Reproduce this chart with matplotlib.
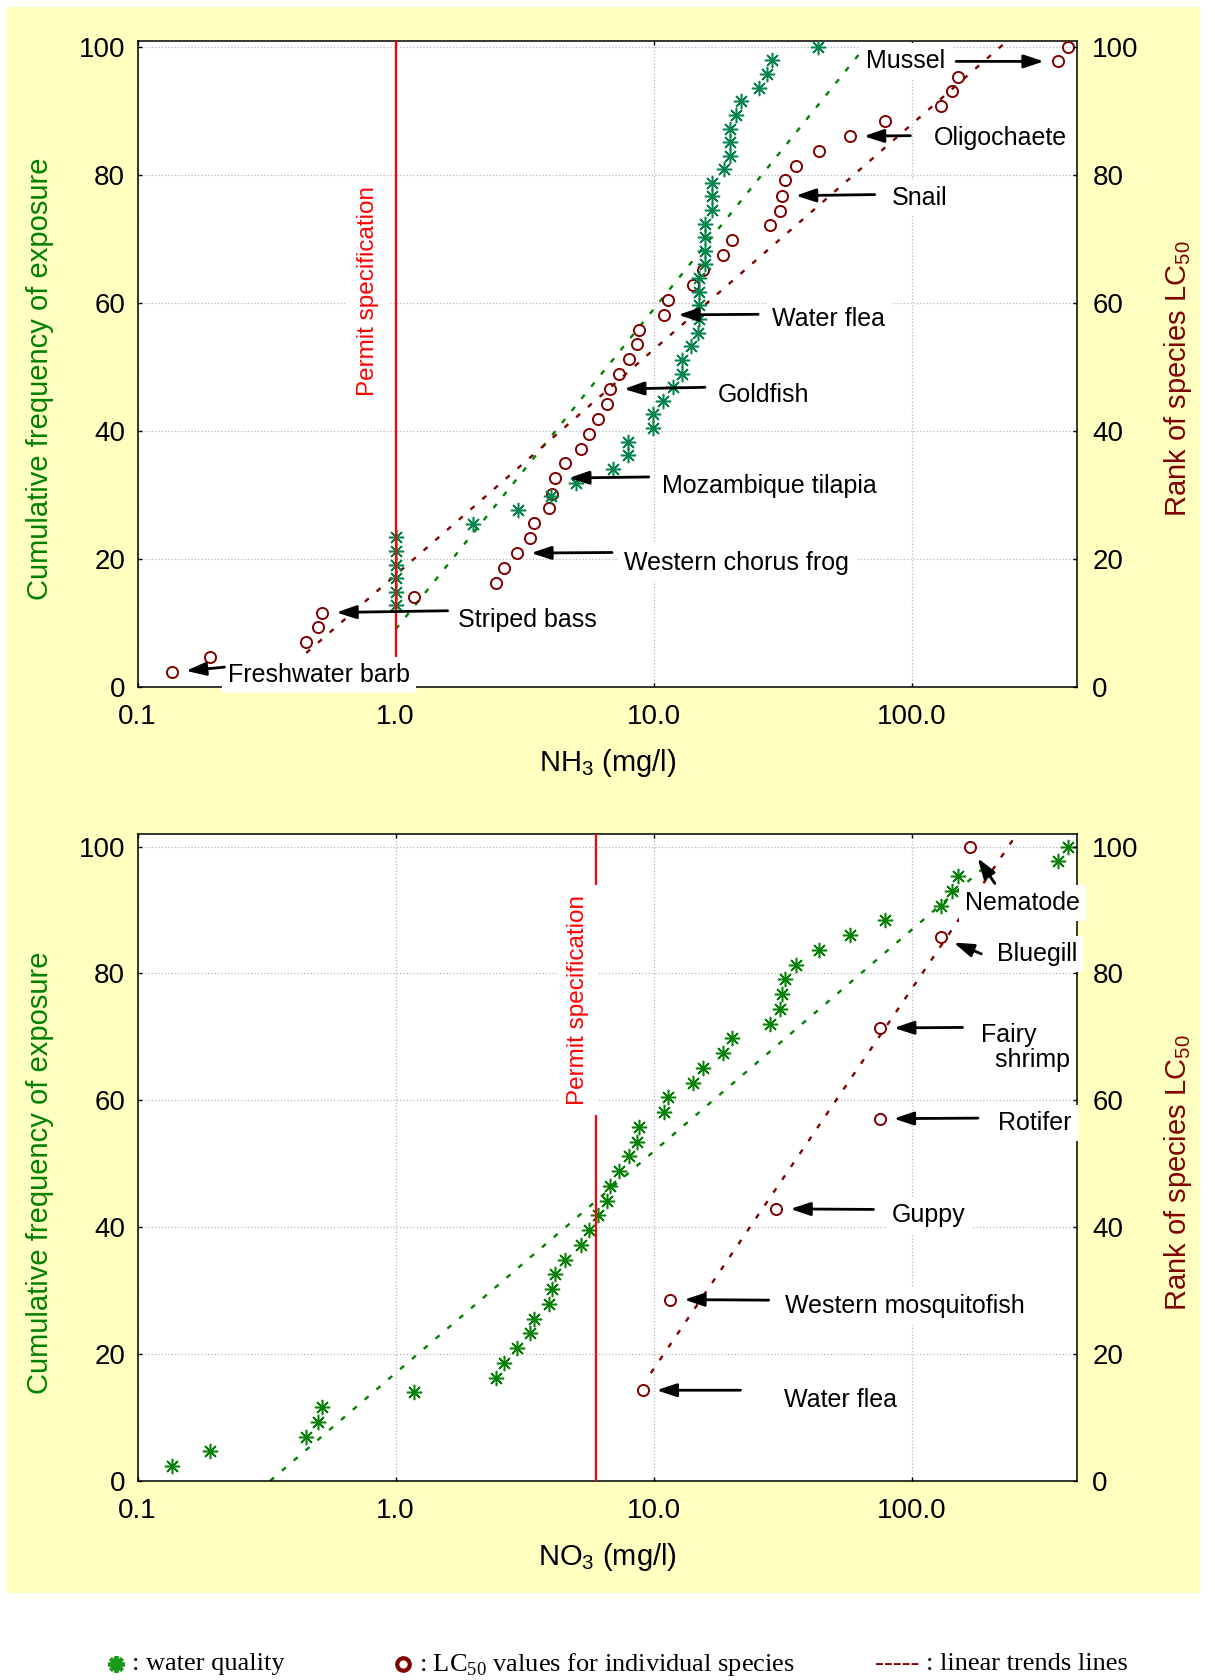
import matplotlib
matplotlib.use('Agg')
import matplotlib.pyplot as plt
from matplotlib.patches import Rectangle
from matplotlib.lines import Line2D
from matplotlib.ticker import FixedLocator, FuncFormatter, NullLocator

plt.rcParams['font.family'] = ['Liberation Sans', 'DejaVu Sans']

# ---- NH3 panel data ----
nh3_lc50_x = [0.136, 0.19, 0.45, 0.50, 0.52, 1.18, 2.45, 2.63, 2.96, 3.31, 3.43,
              3.94, 4.03, 4.15, 4.55, 5.22, 5.63, 6.09, 6.6, 6.78, 7.33, 8.0,
              8.6, 8.75, 11.0, 11.35, 14.2, 15.5, 18.6, 20.2, 28.3, 30.9, 31.4,
              32.4, 35.7, 43.8, 57.6, 79.0, 130.0, 143.0, 151.0, 368.0, 405.0]
nh3_lc50_y = [2.3, 4.7, 7.0, 9.3, 11.6, 14.0, 16.3, 18.6, 20.9, 23.3, 25.6,
              27.9, 30.2, 32.6, 34.9, 37.2, 39.5, 41.9, 44.2, 46.5, 48.8, 51.2,
              53.5, 55.8, 58.1, 60.5, 62.8, 65.1, 67.4, 69.8, 72.1, 74.4, 76.7,
              79.1, 81.4, 83.7, 86.0, 88.4, 90.7, 93.0, 95.3, 97.7, 100.0]
nh3_wq_x = [1.0, 1.0, 1.0, 1.0, 1.0, 1.0, 1.99, 2.99, 4.01, 5.0, 6.95, 7.97,
            7.97, 9.9, 9.9, 10.9, 11.9, 12.9, 12.9, 13.9, 14.8, 15.0, 15.0,
            15.0, 15.0, 15.85, 15.85, 15.85, 15.85, 16.8, 16.8, 16.8, 18.8,
            19.7, 19.7, 19.7, 20.8, 21.7, 25.6, 27.5, 28.8, 43.3]
nh3_wq_y = [12.8, 14.9, 17.0, 19.1, 21.3, 23.4, 25.5, 27.7, 29.8, 31.9, 34.0,
            36.2, 38.3, 40.4, 42.6, 44.7, 46.8, 48.9, 51.1, 53.2, 55.3, 57.4,
            59.6, 61.7, 63.8, 66.0, 68.1, 70.2, 72.3, 74.5, 76.6, 78.7, 80.9,
            83.0, 85.1, 87.2, 89.4, 91.5, 93.6, 95.7, 97.9, 100.0]
nh3_lc50_trend_x = [0.45, 236.0]
nh3_lc50_trend_y = [5.3, 101.0]
nh3_wq_trend_x = [1.0, 66.0]
nh3_wq_trend_y = [9.0, 100.0]
nh3_permit = 1.0
nh3_species = ['Freshwater barb', 'Striped bass', 'Western chorus frog',
               'Mozambique tilapia', 'Goldfish', 'Water flea', 'Snail',
               'Oligochaete', 'Mussel']
nh3_species_idx = [0, 4, 8, 13, 19, 24, 32, 36, 41]

# ---- NO3 panel data ----
no3_wq_x = [0.136, 0.19, 0.45, 0.50, 0.52, 1.18, 2.45, 2.63, 2.96, 3.31, 3.43,
            3.94, 4.03, 4.15, 4.55, 5.22, 5.63, 6.09, 6.6, 6.78, 7.33, 8.0,
            8.6, 8.75, 11.0, 11.35, 14.2, 15.5, 18.6, 20.2, 28.3, 30.9, 31.4,
            32.4, 35.7, 43.8, 57.6, 79.0, 130.0, 143.0, 151.0, 368.0, 405.0]
no3_wq_y = [2.3, 4.7, 7.0, 9.3, 11.6, 14.0, 16.3, 18.6, 20.9, 23.3, 25.6,
            27.9, 30.2, 32.6, 34.9, 37.2, 39.5, 41.9, 44.2, 46.5, 48.8, 51.2,
            53.5, 55.8, 58.1, 60.5, 62.8, 65.1, 67.4, 69.8, 72.1, 74.4, 76.7,
            79.1, 81.4, 83.7, 86.0, 88.4, 90.7, 93.0, 95.3, 97.7, 100.0]
no3_lc50_x = [9.06, 11.6, 29.9, 75.2, 75.4, 129.7, 168.0]
no3_lc50_y = [14.3, 28.6, 42.9, 57.1, 71.4, 85.7, 100.0]
no3_wq_trend_x = [0.326, 192.0]
no3_wq_trend_y = [0.0, 96.8]
no3_lc50_trend_x = [9.75, 246.0]
no3_lc50_trend_y = [17.0, 101.0]
no3_permit = 6.0
no3_species = ['Water flea', 'Western mosquitofish', 'Guppy', 'Rotifer',
               'Fairy\n  shrimp', 'Bluegill', 'Nematode']
no3_species_idx = [0, 1, 2, 3, 4, 5, 6]

# label layout: arrow tail (data coords), text anchor (data coords), alignment
nh3_tails = [(0.217, 3.1), (1.59, 11.9), (6.89, 21.0), (9.57, 32.8), (15.8, 46.8),
             (25.4, 58.2), (71.9, 76.9), (98.8, 86.1), (148.6, 97.7)]
nh3_texts = [(0.224, 1.9), (1.74, 10.5), (7.67, 19.4), (10.8, 31.4), (17.7, 45.6),
             (28.8, 57.5), (83.5, 76.4), (121.8, 85.8), (135.2, 97.7)]
nh3_ha = ['left'] * 8 + ['right']
no3_tails = [(21.7, 14.3), (27.9, 28.5), (71.1, 42.8), (180.6, 57.2),
             (157.4, 71.5), (186.0, 83.1), (210.0, 94.2)]
no3_texts = [(32.0, 12.8), (32.2, 27.5), (83.7, 41.9), (216.0, 56.4),
             (186.0, 68.3), (214.0, 83.1), (160.6, 91.1)]
no3_ha = ['left'] * 7
no3_pad = [0.25, 0.25, 0.25, 0.25, 0.1, 0.25, 0.25]

GREEN = '#008000'
TEAL = '#00844a'
DRED = '#800000'

fig = plt.figure(figsize=(12.15, 16.8), dpi=100)
fig.patches.append(Rectangle((6 / 1215, 1 - 1593 / 1680), 1194 / 1215, 1586 / 1680,
                             transform=fig.transFigure, facecolor='#ffffc0',
                             edgecolor='none', zorder=-10))


def label_species(ax, name, pt, tail, pos, ha, pad=0.25):
    ax.annotate('', xy=pt, xytext=tail, zorder=5,
                arrowprops=dict(arrowstyle='-|>,head_length=0.6,head_width=0.2',
                                color='black', lw=2, shrinkA=0, shrinkB=10,
                                mutation_scale=20))
    ax.text(pos[0], pos[1], name, ha=ha, va='center', fontsize=18, zorder=4,
            linespacing=1.05,
            bbox=dict(boxstyle='square,pad=%.2f' % pad, fc='white', ec='none'))


def setup_axes(ax, ytop, xlabel):
    ax.set_xscale('log')
    ax.set_xlim(0.1, 437)
    ax.set_ylim(0, ytop)
    ax.xaxis.set_major_locator(FixedLocator([0.1, 1, 10, 100]))
    ax.xaxis.set_minor_locator(NullLocator())
    ax.xaxis.set_major_formatter(FuncFormatter(lambda v, p: '%.1f' % v))
    ax.set_yticks([0, 20, 40, 60, 80, 100])
    ax.grid(True, ls=':', color='#b8b8b8', lw=0.9)
    ax.tick_params(direction='in', length=3, width=1, labelsize=20, top=True,
                   right=False)
    ax.tick_params(axis='x', pad=12)
    ax.tick_params(axis='y', pad=9)
    for s in ax.spines.values():
        s.set_linewidth(1.1)
    ax.set_ylabel('Cumulative frequency of exposure', color=GREEN, fontsize=21)
    ax.yaxis.label.set_va('center')
    ax.yaxis.set_label_coords(-0.1044, 0.477)
    ax.set_xlabel(xlabel, fontsize=21)
    ax.xaxis.label.set_va('center')
    ax.xaxis.set_label_coords(0.5, -0.117)

    ax2 = ax.twinx()
    ax2.set_ylim(0, ytop)
    ax2.set_yticks([0, 20, 40, 60, 80, 100])
    ax2.tick_params(direction='in', length=3, width=1, labelsize=20, pad=11)
    for s in ax2.spines.values():
        s.set_visible(False)
    ax2.set_ylabel(r'Rank of species LC$_{\mathregular{50}}$', color=DRED, fontsize=21)
    ax2.yaxis.label.set_va('center')
    ax2.yaxis.set_label_coords(1.1075, 0.477)
    return ax2


trend_style = dict(lw=1.7, ls=(0, (2.2, 4.4)), zorder=2)
star_style = dict(ls='none', marker=(8, 2, 0), ms=11, mew=1.1, zorder=2.8)
circle_style = dict(ls='none', marker='o', ms=8, mfc='none', mec=DRED, mew=1.4,
                    zorder=2.6)
permit_box = dict(boxstyle='square,pad=0.4', fc='white', ec='none')

# ---- top panel: NH3 ----
ax = fig.add_axes([0.1133, 0.5911, 0.7731, 0.3847])
setup_axes(ax, 100.94, r'NH$_{\mathregular{3}}$ (mg/l)')
ax.plot(nh3_wq_trend_x, nh3_wq_trend_y, color=GREEN, **trend_style)
ax.plot(nh3_lc50_trend_x, nh3_lc50_trend_y, color=DRED, **trend_style)
ax.plot(nh3_lc50_x, nh3_lc50_y, **circle_style)
ax.plot(nh3_wq_x, nh3_wq_y, color=TEAL, **star_style)
ax.axvline(nh3_permit, color='red', lw=1.6, zorder=3.5)
ax.text(0.779, 61.8, 'Permit specification', rotation=90, color='red',
        fontsize=17.5, ha='center', va='center', zorder=4, bbox=permit_box)
for name, i, tail, pos, ha in zip(nh3_species, nh3_species_idx, nh3_tails,
                                  nh3_texts, nh3_ha):
    label_species(ax, name, (nh3_lc50_x[i], nh3_lc50_y[i]), tail, pos, ha)

# ---- bottom panel: NO3 ----
bx = fig.add_axes([0.1133, 0.1185, 0.7731, 0.3851])
setup_axes(bx, 102.0, r'NO$_{\mathregular{3}}$ (mg/l)')
bx.plot(no3_wq_trend_x, no3_wq_trend_y, color=GREEN, **trend_style)
bx.plot(no3_lc50_trend_x, no3_lc50_trend_y, color=DRED, **trend_style)
bx.plot(no3_lc50_x, no3_lc50_y, **circle_style)
bx.plot(no3_wq_x, no3_wq_y, color=GREEN, **star_style)
bx.axvline(no3_permit, color='red', lw=1.6, zorder=3.5)
bx.text(5.1, 75.8, 'Permit specification', rotation=90, color='red',
        fontsize=17.5, ha='center', va='center', zorder=4, bbox=permit_box)
for name, i, tail, pos, ha, pad in zip(no3_species, no3_species_idx, no3_tails,
                                       no3_texts, no3_ha, no3_pad):
    label_species(bx, name, (no3_lc50_x[i], no3_lc50_y[i]), tail, pos, ha, pad)

# ---- legend along the bottom ----
ly = 1 - 1664 / 1680
serif = ['Liberation Serif', 'DejaVu Serif']
fig.add_artist(Line2D([115.9 / 1215], [ly], ls='none', marker=(8, 2, 0), ms=12,
                      mew=2.8, color='#1a9a1a', transform=fig.transFigure))
fig.text(132.5 / 1215, ly, ': water quality', family=serif, fontsize=19,
         ha='left', va='center')
fig.add_artist(Line2D([403.3 / 1215], [ly], ls='none', marker='o', ms=9,
                      mfc='none', mec=DRED, mew=3, transform=fig.transFigure))
fig.text(419 / 1215, ly, r': LC$_{\mathregular{50}}$ values for individual species',
         family=serif, fontsize=19, ha='left', va='center')
fig.text(874.5 / 1215, ly, '-----', family=serif, fontsize=19, color=DRED,
         ha='left', va='center')
fig.text(925.5 / 1215, ly, ': linear trends lines', family=serif, fontsize=19,
         ha='left', va='center')

fig.savefig('out.png', dpi=100)
